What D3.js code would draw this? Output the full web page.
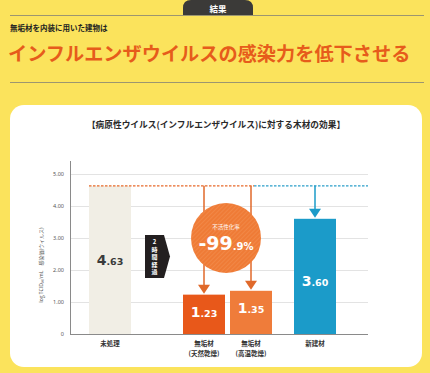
<!DOCTYPE html>
<html>
<head>
<meta charset="utf-8">
<script src="https://cdn.jsdelivr.net/npm/d3@7"></script>
<style>
  body { margin: 0; background: #fbe35c; }
  text { font-family: "Noto Sans CJK JP", "Noto Sans", sans-serif; }
</style>
</head>
<body>
<script>
// chart data
var categories = ["未処理", "無垢材|(天然乾燥)", "無垢材|(高温乾燥)", "新建材"];
var values = [4.63, 1.23, 1.35, 3.60];
var barColors = ["#f1eee5", "#e8581a", "#ef7c3a", "#1b9bc9"];
var labelColors = ["#3a3a3a", "#fff", "#fff", "#fff"];
var yTicks = [0, 1, 2, 3, 4, 5];
var yTickLabels = ["0", "1.00", "2.00", "3.00", "4.00", "5.00"];
var reduction = ["-99", ".9%"];

var width = 430, height = 373;

var svg = d3.select("body")
    .append("svg")
    .attr("width", width)
    .attr("height", height);

var defs = svg.append("defs");
var pat = defs.append("pattern")
    .attr("id", "hatch")
    .attr("patternUnits", "userSpaceOnUse")
    .attr("width", 3).attr("height", 3)
    .attr("patternTransform", "rotate(45)");
pat.append("rect").attr("width", 3).attr("height", 3).attr("fill", "#ef7b36");
pat.append("line").attr("x1", 0).attr("y1", 0).attr("x2", 0).attr("y2", 3)
    .attr("stroke", "#f39256").attr("stroke-width", 1);

// Header
svg.append("path")
    .attr("d", "M183,15 L183,8 Q183,0 191,0 L245,0 Q253,0 253,8 L253,15 Z")
    .attr("fill", "#3b3a38");
svg.append("text")
    .attr("x", 218).attr("y", 11.5)
    .attr("text-anchor", "middle")
    .attr("font-size", 8.5).attr("font-weight", "bold")
    .attr("fill", "#fff")
    .text("結果");
svg.append("line")
    .attr("x1", 10).attr("x2", 424).attr("y1", 15.5).attr("y2", 15.5)
    .attr("stroke", "#9c9670").attr("stroke-width", 1);
svg.append("text")
    .attr("x", 10).attr("y", 31)
    .attr("font-size", 7.5).attr("font-weight", "bold")
    .attr("fill", "#222")
    .text("無垢材を内装に用いた建物は");
svg.append("text")
    .attr("x", 8).attr("y", 61)
    .attr("font-size", 19.2).attr("font-weight", "bold")
    .attr("fill", "#e65c1b")
    .text("インフルエンザウイルスの感染力を低下させる");
svg.append("line")
    .attr("x1", 10).attr("x2", 424).attr("y1", 82.5).attr("y2", 82.5)
    .attr("stroke", "#9c9670").attr("stroke-width", 1);

// Card
svg.append("rect")
    .attr("x", 10).attr("y", 105)
    .attr("width", 412).attr("height", 262)
    .attr("rx", 14)
    .attr("fill", "#fff");
svg.append("text")
    .attr("x", 216).attr("y", 128)
    .attr("text-anchor", "middle")
    .attr("font-size", 8.7).attr("font-weight", "bold")
    .attr("fill", "#2a2a2a")
    .text("【病原性ウイルス(インフルエンザウイルス)に対する木材の効果】");

// Scales
var y = d3.scaleLinear().domain([0, 5]).range([334, 174]);
var x = d3.scaleOrdinal().domain(categories).range([110, 204, 251, 315]);
var barW = 42;
var left = 70, right = 368;

var g = svg.append("g");

// gridlines
g.selectAll(".grid")
    .data(yTicks.slice(1))
    .enter().append("line")
    .attr("x1", left).attr("x2", right)
    .attr("y1", function(d) { return y(d) + 0.5; })
    .attr("y2", function(d) { return y(d) + 0.5; })
    .attr("stroke", "#dcdcdc").attr("stroke-width", 0.8);

// y axis
var yAxis = g.append("g")
    .attr("transform", "translate(" + left + ",0)")
    .call(d3.axisLeft(y).tickValues(yTicks).tickSize(0).tickPadding(6)
        .tickFormat(function(d, i) { return yTickLabels[i]; }));
yAxis.select(".domain").remove();
yAxis.selectAll("text")
    .attr("font-size", 5.5)
    .attr("fill", "#555")
    .style("font-family", "'Noto Sans', sans-serif");

g.append("line")
    .attr("x1", left + 0.5).attr("x2", left + 0.5)
    .attr("y1", 161).attr("y2", y(0))
    .attr("stroke", "#8a8a8a").attr("stroke-width", 1);

// y label
svg.append("text")
    .attr("transform", "translate(43,265) rotate(-90)")
    .attr("text-anchor", "middle")
    .attr("font-size", 5)
    .attr("fill", "#555")
    .text("log TCID₅₀/mL　感染価(ウイルス)");

// bars
g.selectAll(".bar")
    .data(values)
    .enter().append("rect")
    .attr("x", function(d, i) { return x(categories[i]) - barW / 2; })
    .attr("y", function(d) { return y(d); })
    .attr("width", barW)
    .attr("height", function(d) { return y(0) - y(d); })
    .attr("fill", function(d, i) { return barColors[i]; });

// baseline
g.append("line")
    .attr("x1", left).attr("x2", right)
    .attr("y1", y(0) + 0.5).attr("y2", y(0) + 0.5)
    .attr("stroke", "#8a8a8a").attr("stroke-width", 1);

// value labels
var vl = g.selectAll(".val")
    .data(values)
    .enter().append("text")
    .attr("x", function(d, i) { return x(categories[i]); })
    .attr("y", function(d, i) {
        return i == 0 ? y(d) + 79 : (i == 3 ? y(d) + 67 : y(d) + 22);
    })
    .attr("text-anchor", "middle")
    .attr("font-weight", "bold")
    .attr("fill", function(d, i) { return labelColors[i]; })
    .style("font-family", "'DejaVu Sans', sans-serif");
vl.append("tspan").attr("font-size", 14)
    .text(function(d) { return d.toFixed(2).split(".")[0]; });
vl.append("tspan").attr("font-size", 9.5)
    .text(function(d) { return "." + d.toFixed(2).split(".")[1]; });

// category labels
categories.forEach(function(c, i) {
    var lines = c.split("|");
    var t = g.append("text")
        .attr("x", x(c))
        .attr("y", 346)
        .attr("text-anchor", "middle")
        .attr("font-size", 6.5)
        .attr("font-weight", "bold")
        .attr("fill", "#333");
    lines.forEach(function(l, j) {
        t.append("tspan").attr("x", x(c)).attr("dy", j == 0 ? 0 : 10).text(l);
    });
});

// dashed reference lines
var ref = y(values[0]);
g.append("line")
    .attr("x1", x(categories[0]) - barW / 2).attr("x2", 254)
    .attr("y1", ref).attr("y2", ref)
    .attr("stroke", "#e8692a").attr("stroke-width", 1.3)
    .attr("stroke-dasharray", "2.5,1.5");
g.append("line")
    .attr("x1", 254).attr("x2", right)
    .attr("y1", ref).attr("y2", ref)
    .attr("stroke", "#2a9ec9").attr("stroke-width", 1.3)
    .attr("stroke-dasharray", "2.5,1.5");

// arrows
function arrow(cx, yTop, yTip, color) {
    g.append("line")
        .attr("x1", cx).attr("x2", cx)
        .attr("y1", yTop).attr("y2", yTip - 8)
        .attr("stroke", color).attr("stroke-width", 1.5);
    g.append("path")
        .attr("d", "M" + (cx - 6) + "," + (yTip - 10) + " L" + (cx + 6) + "," + (yTip - 10) + " L" + cx + "," + (yTip - 1) + " Z")
        .attr("fill", color);
}
arrow(x(categories[1]), ref, y(values[1]), "#e0692a");
arrow(x(categories[2]), ref, y(values[2]), "#e0692a");
arrow(x(categories[3]), ref, y(values[3]), "#1b9bc9");

// circle
g.append("circle")
    .attr("cx", 226).attr("cy", 238).attr("r", 35)
    .attr("fill", "url(#hatch)");
g.append("text")
    .attr("x", 226).attr("y", 229)
    .attr("text-anchor", "middle")
    .attr("font-size", 5.5)
    .attr("fill", "#fff")
    .text("不活性化率");
var pc = g.append("text")
    .attr("x", 226).attr("y", 250)
    .attr("text-anchor", "middle")
    .attr("font-weight", "bold")
    .attr("fill", "#fff")
    .style("font-family", "'DejaVu Sans', sans-serif");
pc.append("tspan").attr("font-size", 19).text(reduction[0]);
pc.append("tspan").attr("font-size", 10).text(reduction[1]);

// 2時間経過 box
g.append("path")
    .attr("d", "M145,235 L164,235 L170,256.5 L164,278 L145,278 Z")
    .attr("fill", "#231f20");
var vt = ["2", "時", "間", "経", "過"];
g.selectAll(".vt")
    .data(vt)
    .enter().append("text")
    .attr("x", 154.5)
    .attr("y", function(d, i) { return 244 + i * 7.6; })
    .attr("text-anchor", "middle")
    .attr("font-size", 6)
    .attr("font-weight", "bold")
    .attr("fill", "#fff")
    .text(function(d) { return d; });
</script>
</body>
</html>
